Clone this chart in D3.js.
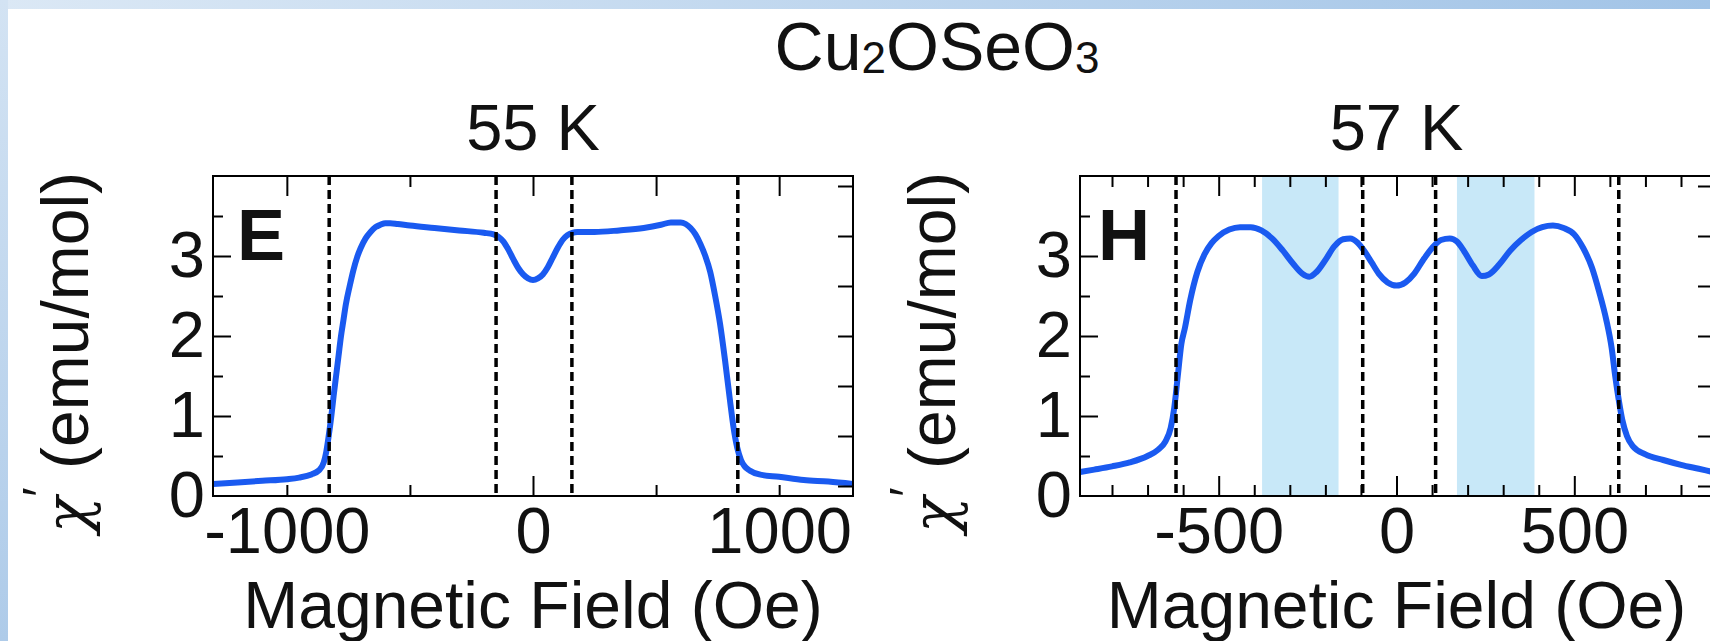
<!DOCTYPE html>
<html><head><meta charset="utf-8">
<script src="https://cdn.jsdelivr.net/npm/d3@7"></script>
<style>
body{margin:0;overflow:hidden;background:#fff}
svg{display:block}
text{font-family:"Liberation Sans",Arial,Helvetica,sans-serif;fill:#111}
</style>
</head><body>
<svg id="c" width="1710" height="641"></svg>
<script>
// ---------- data ----------
const chartTitle = "Cu2OSeO3";
const panelTitles = ["55 K", "57 K"];
const panelLetters = ["E", "H"];
const xAxisTitle = "Magnetic Field (Oe)";

// Panel E (55 K)
const eField = [-1300,-1200,-1100,-1000,-950,-900,-870,-850,-840,-830,-820,-810,-800,-790,-780,-770,-760,-745,-730,-715,-700,-680,-660,-640,-620,-600,-580,-550,-500,-400,-300,-200,-160,-140,-120,-100,-80,-60,-40,-20,0,20,40,60,80,100,120,140,160,180,250,350,450,520,560,600,620,640,660,680,700,720,740,760,780,800,815,830,845,860,880,920,1000,1100,1200,1300];
const eChi   = [0.15,0.17,0.19,0.21,0.23,0.27,0.32,0.42,0.55,0.75,0.98,1.25,1.5,1.75,2.0,2.2,2.4,2.62,2.82,2.98,3.1,3.22,3.3,3.36,3.39,3.41,3.41,3.4,3.38,3.35,3.32,3.29,3.27,3.24,3.18,3.08,2.96,2.85,2.77,2.72,2.7,2.72,2.77,2.86,2.98,3.1,3.2,3.26,3.29,3.3,3.3,3.32,3.35,3.39,3.42,3.42,3.4,3.35,3.27,3.15,3.0,2.8,2.5,2.15,1.7,1.2,0.85,0.6,0.45,0.37,0.32,0.27,0.24,0.2,0.18,0.15];
const eDashed = [-828,-150,158,832];
const eTopMajor = [-1000,0,500,1000];
const eTopMinor = [-500];
const eBottomMajor = [0];
const eBottomMinor = [-1000,-500,500,1000];
const eXLabels = [-1000,0,1000];

// Panel H (57 K)
const hField = [-890,-850,-800,-750,-700,-670,-650,-635,-625,-615,-605,-595,-580,-560,-540,-520,-500,-470,-440,-410,-380,-350,-320,-290,-265,-245,-225,-200,-175,-150,-130,-110,-90,-70,-50,-25,0,25,50,75,100,125,150,170,190,215,240,260,290,320,350,380,410,440,470,500,525,550,570,590,605,615,625,635,648,665,700,750,800,850,890];
const hChi   = [0.3,0.33,0.37,0.42,0.5,0.58,0.68,0.85,1.1,1.5,1.9,2.1,2.45,2.8,3.02,3.16,3.25,3.33,3.36,3.36,3.32,3.22,3.07,2.9,2.78,2.74,2.8,2.95,3.12,3.21,3.22,3.17,3.06,2.92,2.78,2.67,2.63,2.67,2.78,2.95,3.1,3.2,3.22,3.18,3.06,2.88,2.75,2.77,2.9,3.07,3.2,3.3,3.36,3.38,3.35,3.27,3.1,2.85,2.55,2.2,1.85,1.5,1.2,0.95,0.75,0.62,0.52,0.45,0.39,0.34,0.3];
const hDashed = [-620,-95,110,625];
const hShaded = [[-378,-163],[170,388]];
const hMajor = [-500,0,500];
const hMinor = [-800,-700,-600,-400,-300,-200,-100,100,200,300,400,600,700,800];
const hXLabels = [-500,0,500];

// y axis (left) and unlabeled right axis
const yDomain = [0,4];
const yMajor = [1,2,3];
const yMinor = [0.5,1.5,2.5,3.5];
const yLabels = [0,1,2,3];
const rDomain = [-0.2,6.2];
const rTicks = [0,1,2,3,4,5,6];

// ---------- drawing ----------
const W=1710, HH=641;
const svg=d3.select("#c");
const defs=svg.append("defs");
const gt=defs.append("linearGradient").attr("id","topg").attr("x1",0).attr("x2",1).attr("y1",0).attr("y2",0);
gt.append("stop").attr("offset",0).attr("stop-color","#dbe8f5");
gt.append("stop").attr("offset",1).attr("stop-color","#a2c4e7");
const gl=defs.append("linearGradient").attr("id","leftg").attr("x1",0).attr("x2",0).attr("y1",0).attr("y2",1);
gl.append("stop").attr("offset",0).attr("stop-color","#d3e3f3");
gl.append("stop").attr("offset",1).attr("stop-color","#aecbe9");
svg.append("rect").attr("width",W).attr("height",HH).attr("fill","#fff");
svg.append("rect").attr("width",W).attr("height",9).attr("fill","url(#topg)");
svg.append("rect").attr("width",8).attr("height",HH).attr("fill","url(#leftg)");

const plotTop=176, plotBottom=496;
const y=d3.scaleLinear().domain(yDomain).range([plotBottom,plotTop]);
const yR=d3.scaleLinear().domain(rDomain).range([plotBottom,plotTop]);
const BLUE="#1a5af0";
const fmt=d=>String(d);   // plain hyphen minus as in the reference

// main title
const tt=svg.append("text").attr("x",937).attr("y",70).attr("text-anchor","middle").attr("fill","#111").style("font-size","68px");
tt.append("tspan").attr("fill","#111").text("Cu");
tt.append("tspan").attr("fill","#111").attr("dy",3).style("font-size","44px").text("2");
tt.append("tspan").attr("fill","#111").attr("dy",-3).text("OSeO");
tt.append("tspan").attr("fill","#111").attr("dy",3).style("font-size","44px").text("3");

const panels=[
 {left:213,right:853,dom:[-1300,1300],field:eField,chi:eChi,dashed:eDashed,shaded:[],
  topMajor:eTopMajor,topMinor:eTopMinor,botMajor:eBottomMajor,botMinor:eBottomMinor,labels:eXLabels,letterDx:24},
 {left:1080,right:1713,dom:[-890,890],field:hField,chi:hChi,dashed:hDashed,shaded:hShaded,
  topMajor:hMajor,topMinor:hMinor,botMajor:hMajor,botMinor:hMinor,labels:hXLabels,letterDx:18}
];

panels.forEach((p,i)=>{
  const x=d3.scaleLinear().domain(p.dom).range([p.left,p.right]);
  const g=svg.append("g");
  const cid="clip"+i;
  defs.append("clipPath").attr("id",cid).append("rect")
    .attr("x",p.left).attr("y",plotTop).attr("width",p.right-p.left).attr("height",plotBottom-plotTop);
  const inner=g.append("g").attr("clip-path",`url(#${cid})`);
  inner.selectAll("rect.band").data(p.shaded).join("rect").attr("class","band")
    .attr("x",d=>x(d[0])).attr("width",d=>x(d[1])-x(d[0]))
    .attr("y",plotTop).attr("height",plotBottom-plotTop).attr("fill","#c8e8f8");
  const pts=p.field.map((f,k)=>[f,p.chi[k]]);
  inner.append("path").datum(pts)
    .attr("d",d3.line().x(d=>x(d[0])).y(d=>y(d[1])).curve(d3.curveMonotoneX))
    .attr("fill","none").attr("stroke",BLUE).attr("stroke-width",6)
    .attr("stroke-linejoin","round").attr("stroke-linecap","round");
  inner.selectAll("line.dash").data(p.dashed).join("line").attr("class","dash")
    .attr("x1",d=>x(d)).attr("x2",d=>x(d)).attr("y1",plotTop).attr("y2",plotBottom)
    .attr("stroke","#000").attr("stroke-width",3.5).attr("stroke-dasharray","9,5");

  const axStyle=sel=>{sel.select(".domain").remove();sel.selectAll("line").attr("stroke","#000").attr("stroke-width",2);};
  g.append("g").attr("transform",`translate(0,${plotBottom})`)
    .call(d3.axisBottom(x).tickValues(p.botMajor).tickSize(-20).tickFormat("")).call(axStyle);
  g.append("g").attr("transform",`translate(0,${plotBottom})`)
    .call(d3.axisBottom(x).tickValues(p.botMinor).tickSize(-11).tickFormat("")).call(axStyle);
  g.append("g").attr("transform",`translate(0,${plotTop})`)
    .call(d3.axisTop(x).tickValues(p.topMajor).tickSize(-20).tickFormat("")).call(axStyle);
  g.append("g").attr("transform",`translate(0,${plotTop})`)
    .call(d3.axisTop(x).tickValues(p.topMinor).tickSize(-11).tickFormat("")).call(axStyle);
  const xl=g.append("g").attr("transform",`translate(0,${plotBottom})`)
    .call(d3.axisBottom(x).tickValues(p.labels).tickSize(0).tickPadding(11).tickFormat(fmt));
  xl.select(".domain").remove();
  xl.selectAll("text").style("font-size","65px").attr("fill","#111").style("font-family","'Liberation Sans',Arial,sans-serif");
  g.append("g").attr("transform",`translate(${p.left},0)`)
    .call(d3.axisLeft(y).tickValues(yMajor).tickSize(-18).tickFormat("")).call(axStyle);
  g.append("g").attr("transform",`translate(${p.left},0)`)
    .call(d3.axisLeft(y).tickValues(yMinor).tickSize(-10).tickFormat("")).call(axStyle);
  const yl=g.append("g").attr("transform",`translate(${p.left},0)`)
    .call(d3.axisLeft(y).tickValues(yLabels).tickSize(0).tickPadding(8).tickFormat(fmt));
  yl.select(".domain").remove();
  yl.selectAll("text").style("font-size","65px").attr("fill","#111").style("font-family","'Liberation Sans',Arial,sans-serif");
  g.append("g").attr("transform",`translate(${p.right},0)`)
    .call(d3.axisRight(yR).tickValues(rTicks).tickSize(-15).tickFormat("")).call(axStyle);
  g.append("rect").attr("x",p.left).attr("y",plotTop).attr("width",p.right-p.left).attr("height",plotBottom-plotTop)
    .attr("fill","none").attr("stroke","#000").attr("stroke-width",2);
  g.append("text").attr("x",p.left+p.letterDx).attr("y",260).style("font-size","72px").style("font-weight","bold")
    .attr("fill","#000").text(panelLetters[i]);
  g.append("text").attr("x",x(0)).attr("y",150).attr("text-anchor","middle").style("font-size","65px").text(panelTitles[i]);
  g.append("text").attr("x",x(0)).attr("y",628).attr("text-anchor","middle").style("font-size","66px").text(xAxisTitle);
  const yt=g.append("text").attr("transform",`translate(${p.left-125},533) rotate(-90)`)
    .attr("text-anchor","start").style("font-size","66px");
  yt.append("tspan").style("font-family","'DejaVu Serif','Liberation Serif',serif").style("font-style","italic").style("font-size","60px").text("χ");
  yt.append("tspan").attr("dy",-30).style("font-size","50px").text("′");
  yt.append("tspan").attr("dy",30).text(" (emu/mol)");
});
</script>
</body></html>
